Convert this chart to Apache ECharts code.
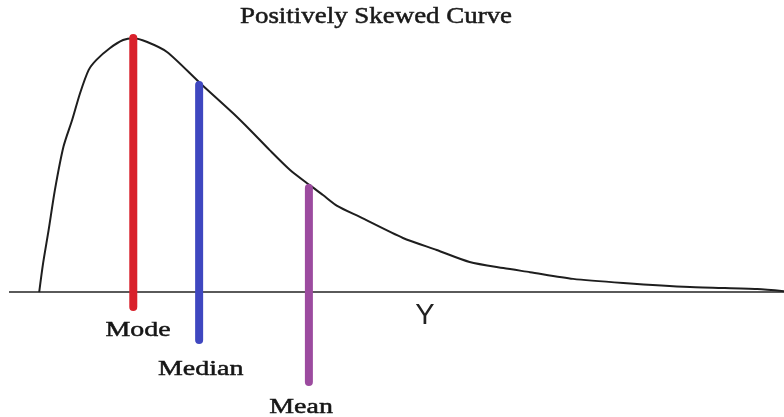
<!DOCTYPE html>
<html><head><meta charset="utf-8">
<script src="https://cdn.jsdelivr.net/npm/echarts@6/dist/echarts.min.js"></script>
<style>html,body{margin:0;padding:0;background:#fff}#c{width:784px;height:417px}</style>
</head><body><div id="c"></div>
<script>
// curve points: [x, height]
const curveX = [5.0, 5.5, 6.2, 7.0, 8.1, 9.2, 10.2, 11.3, 12.3, 14.0, 15.7, 17.0, 18.7, 21.3, 25.5, 29.7, 31.9, 34.4, 37.0, 39.5, 41.2, 43.0, 45.9, 51.4, 55.7, 59.9, 64.2, 67.6, 73.1, 79.5, 88.0, 96.6, 100];
const curveY = [0, 9.9, 21.2, 34.9, 49.8, 58.9, 68.0, 76.0, 79.5, 83.5, 86.3, 86.9, 85.7, 82.2, 71.6, 61.3, 55.5, 48.6, 41.8, 36.6, 33.2, 29.5, 25.7, 18.5, 14.4, 10.3, 8.2, 6.8, 4.5, 3.1, 1.7, 1.0, 0.3];
const markerNames = ['Mode', 'Median', 'Mean'];
const markerX = [17.0, 25.4, 39.4];
const markerTop = [87.0, 70.9, 35.6];
const markerBottom = [-5.1, -16.4, -30.8];
const markerColors = ['#d9212b', '#3f47c0', '#9c4b9f'];
const labelX = [17.6, 25.6, 38.4];
const labelY = [-13.0, -26.3, -39.3];
const axisStart = 1.15, axisEnd = 100;
const axisLabel = 'Y', axisLabelPos = [54.2, -8.2];
const titleText = 'Positively Skewed Curve';

const series = [];
series.push({type:'line', data:[[axisStart,0],[axisEnd,0]], symbol:'none', lineStyle:{color:'#5a5a5a', width:2}, z:1});
series.push({type:'line', data: curveX.map((x,i)=>[x, curveY[i]]), smooth:0.25, symbol:'none', lineStyle:{color:'#1e1e1e', width:2}, z:2});
markerNames.forEach((n,i)=>{
  series.push({type:'line', data:[[markerX[i], markerBottom[i]],[markerX[i], markerTop[i]]], symbol:'none',
    lineStyle:{color:markerColors[i], width:8, cap:'round'}, z:3});
});
series.push({type:'custom', z:4,
  data: markerNames.map((n,i)=>[labelX[i], labelY[i]]),
  renderItem:(params, api)=>{
    const p = api.coord([api.value(0), api.value(1)]);
    return {type:'text', x:p[0], y:p[1], scaleX:1.27,
      style:{text:markerNames[params.dataIndex], font:'22px "Liberation Serif"', align:'center', verticalAlign:'middle',
        fill:'#151515', stroke:'#151515', lineWidth:0.5}};
  }});
series.push({type:'custom', z:4,
  data:[axisLabelPos],
  renderItem:(params, api)=>{
    const p = api.coord([api.value(0), api.value(1)]);
    return {type:'text', x:p[0], y:p[1],
      style:{text:axisLabel, font:'29px "Liberation Sans"', align:'center', verticalAlign:'middle', fill:'#222'}};
  }});

const chart = echarts.init(document.getElementById('c'));
chart.setOption({
  animation:false,
  graphic:[{type:'text', x:376, y:17, scaleX:1.17,
    style:{text:titleText, font:'23px "Liberation Serif"', align:'center', verticalAlign:'middle', fill:'#1a1a1a', stroke:'#1a1a1a', lineWidth:0.5}}],
  grid:{left:0, right:0, top:0, bottom:0},
  xAxis:{type:'value', min:0, max:100, show:false},
  yAxis:{type:'value', min:-42.8, max:100, show:false},
  series
});
</script></body></html>
